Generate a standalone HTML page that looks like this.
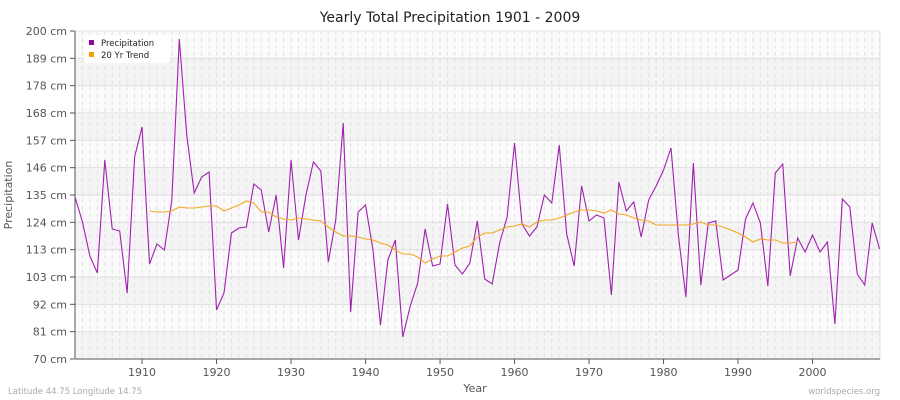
<!DOCTYPE html>
<html><head><meta charset="utf-8"><style>body{margin:0;background:#fff}svg{display:block;font-family:"DejaVu Sans",sans-serif}</style></head><body>
<svg width="900" height="400" viewBox="0 0 900 400">
<rect width="900" height="400" fill="#fff"/>
<g id="bands"></g>
<text x="450" y="22" text-anchor="middle" font-size="14" fill="#222">Yearly Total Precipitation 1901 - 2009</text>
<g id="g"></g>
<rect x="84" y="35" width="86" height="28" rx="3" fill="#fff" opacity="0.9"/>
<rect x="89" y="40" width="5" height="5" fill="#8b0a9b"/>
<text x="101" y="46" font-size="8.5" fill="#222">Precipitation</text>
<rect x="89" y="52" width="5" height="5" fill="#f5a000"/>
<text x="101" y="58" font-size="8.5" fill="#222">20 Yr Trend</text>
<text x="475" y="392" text-anchor="middle" font-size="11" fill="#555">Year</text>
<text x="12" y="195" text-anchor="middle" font-size="11" fill="#555" transform="rotate(-90 12 195)">Precipitation</text>
<text x="8" y="394" font-size="8.5" fill="#aaa">Latitude 44.75 Longitude 14.75</text>
<text x="880" y="394" text-anchor="end" font-size="8.5" fill="#aaa">worldspecies.org</text>
</svg>
<script>
const ns="http://www.w3.org/2000/svg",g=document.getElementById('g'),b=document.getElementById('bands');
function el(t,a,p){const e=document.createElementNS(ns,t);for(const k in a)e.setAttribute(k,a[k]);(p||g).appendChild(e);return e;}
const X0=75,X1=880,Y0=31,Y1=359,xs=y=>75+(y-1901)*7.45;
const labs=[200,189,178,168,157,146,135,124,113,103,92,81,70];
for(let i=0;i<12;i++){const y=Y0+i*(Y1-Y0)/12;el('rect',{x:X0,y:y,width:X1-X0,height:(Y1-Y0)/12,fill:i%2?'#f4f4f4':'#fafafa'},b);}
for(let yr=1901;yr<=2009;yr++){const x=xs(yr);el('line',{x1:x,x2:x,y1:Y0,y2:Y1,stroke:'#e2e2e2','stroke-dasharray':'4,3','stroke-width':1});}
labs.forEach((v,i)=>{const y=Y0+i*(Y1-Y0)/12;el('line',{x1:X0,x2:X1,y1:y,y2:y,stroke:'#e0e0e0'});el('line',{x1:X0-5,x2:X0,y1:y,y2:y,stroke:'#555'});const t=el('text',{x:X0-8,y:y+4,'text-anchor':'end','font-size':11,fill:'#555'});t.textContent=v+' cm';});
el('rect',{x:X0,y:Y0,width:X1-X0,height:Y1-Y0,fill:'none',stroke:'#e4e4e4'});
el('line',{x1:X0,x2:X0,y1:Y0,y2:Y1,stroke:'#555'});el('line',{x1:X0,x2:X1,y1:Y1,y2:Y1,stroke:'#555'});
for(let yr=1910;yr<=2000;yr+=10){const x=xs(yr);el('line',{x1:x,x2:x,y1:Y1,y2:Y1+5,stroke:'#555'});const t=el('text',{x:x,y:Y1+17,'text-anchor':'middle','font-size':11,fill:'#555'});t.textContent=yr;}
const p=[197,222,256,273,160,229,231,293,157,127,264,244,250,200,39,135,193,177,172,310,293,233,228,227,184,190,232,195,268,160,240,195,162,171,262,220,123,312,212,205,250,325,260,240,337,306,283,229,266,264,204,265,274,263,221,279,284,243,217,143,224,236,227,195,203,145,234,266,186,221,215,218,295,182,211,202,237,200,186,170,148,236,297,163,285,223,221,280,275,270,219,203,223,286,173,164,276,238,252,235,252,242,324,199,207,274,285,223,249];
el('polyline',{points:p.map((v,i)=>xs(1901+i)+','+v).join(' '),fill:'none',stroke:'#a020b0','stroke-width':1.1});
const t=[211,212,212,211,207,208,208,207,206,206,211,208,205,201,203,212,212,217,219,220,218,219,220,221,227,232,236,236,237,239,240,243,245,250,254,254,257,263,259,256,256,252,248,246,237,233,233,230,227,226,224,227,222,220,220,218,215,212,210,210,211,213,210,214,215,218,220,221,225,225,225,225,225,224,222,225,225,227,230,233,237,242,239,240,240,243,243,242];
el('polyline',{points:t.map((v,i)=>xs(1911+i)+','+v).join(' '),fill:'none',stroke:'#f5a623','stroke-width':1.1});
</script>
</body></html>
